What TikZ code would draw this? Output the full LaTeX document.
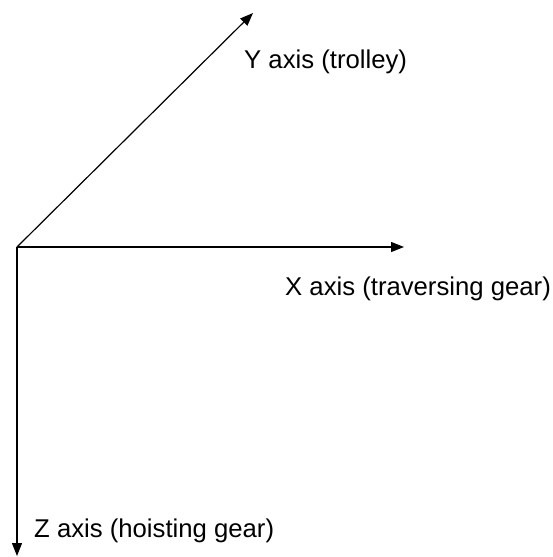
\documentclass[tikz,border=0pt]{standalone}
\usepackage{fontspec}
\setmainfont{Liberation Sans}
\usetikzlibrary{arrows.meta}
\begin{document}
\begin{tikzpicture}[x=1pt,y=-1pt,
  axis/.style={line width=1.2pt,-{Triangle[length=13pt,width=10pt]}},
  axislabel/.style={anchor=base west,inner sep=0pt,font=\fontsize{25.7}{30}\selectfont}]
\useasboundingbox (0,0) rectangle (552,557);
% origin and axis end points
\coordinate (o) at (17,247);
\coordinate (xend) at (404,247);
\coordinate (yend) at (253,13);
\coordinate (zend) at (17,556);
\draw[axis] (o) -- (xend);
\draw[axis] (o) -- (yend);
\draw[axis] (o) -- (zend);
% axis labels
\node[axislabel] (ylab) at (244,68) {Y axis (trolley)};
\node[axislabel] (xlab) at (285,295) {X axis (traversing gear)};
\node[axislabel] (zlab) at (34,537) {Z axis (hoisting gear)};
\end{tikzpicture}
\end{document}
